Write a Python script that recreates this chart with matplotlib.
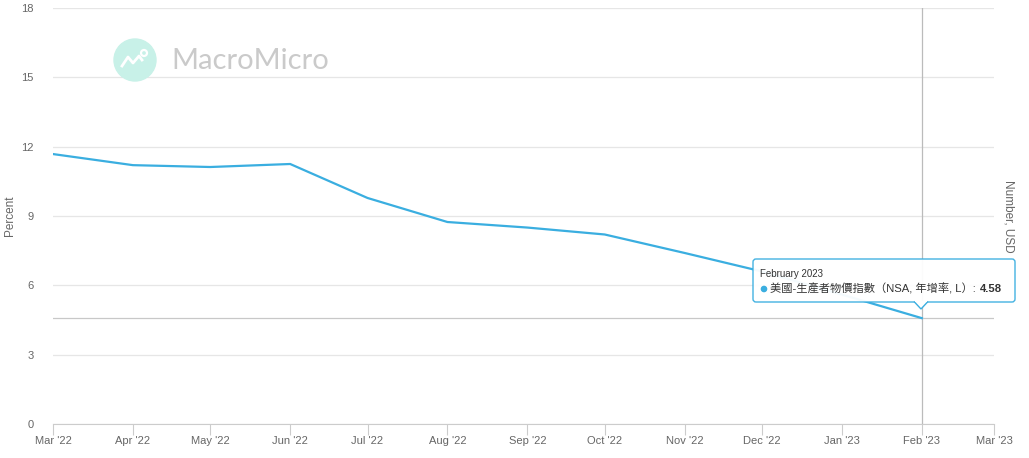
import matplotlib
matplotlib.use("Agg")
import matplotlib.pyplot as plt
import matplotlib.dates as mdates
from matplotlib.patches import FancyBboxPatch, Polygon
import numpy as np
import pandas as pd

plt.rcParams['font.family'] = ['Liberation Sans', 'Noto Sans CJK TC', 'DejaVu Sans']

# 美國-生產者物價指數 (NSA, 年增率)
months = pd.date_range("2022-03-01", "2023-02-01", freq="MS")
ppi_yoy = [11.68, 11.2, 11.12, 11.25, 9.78, 8.74, 8.5, 8.2, 7.4, 6.6, 5.6, 4.58]
y_ticks = [0, 3, 6, 9, 12, 15, 18]
x_ticks = pd.date_range("2022-03-01", "2023-03-01", freq="MS")

line_c = "#3aaee0"
grid_c = "#e6e6e6"
txt_c = "#666666"
H = 458

fig = plt.figure(figsize=(10.29, 4.58), dpi=100)
ax = fig.add_axes([53/1029, 34/H, 941/1029, 416/H])

ax.plot(months, ppi_yoy, color=line_c, lw=1.6, zorder=3)

ax.set_ylim(0, 18)
ax.set_yticks(y_ticks)
ax.set_xlim(x_ticks[0], x_ticks[-1])
ax.set_xticks(x_ticks)
ax.xaxis.set_major_formatter(mdates.DateFormatter("%b '%y"))
ax.grid(axis="y", color=grid_c, lw=0.9)
ax.set_axisbelow(True)
for s in ["top", "right", "left"]:
    ax.spines[s].set_visible(False)
ax.spines["bottom"].set_color("#cccccc")
ax.tick_params(axis="y", length=0, labelsize=8, labelcolor=txt_c, pad=14)
ax.tick_params(axis="x", length=8, color="#cccccc", labelsize=8, labelcolor=txt_c, pad=1)
ax.set_ylabel("Percent", fontsize=8.5, color=txt_c, labelpad=4)

# right axis title
fig.text(1008/1029, (H-216)/H, "Number, USD", rotation=270, fontsize=8.5, color=txt_c,
         ha="center", va="center")

# crosshair
last = months[-1]
ax.axvline(last, color="#bbbbbb", lw=0.9, zorder=2)
ax.axhline(ppi_yoy[-1], color="#c8c8c8", lw=0.9, zorder=2)

# watermark
fig.patches.append(plt.Circle((135, H-60), 21, transform=None, color="#c8f1e8", zorder=1))
fig.text(171/1029, (H-61)/H, "MacroMicro", fontsize=21, color="#cacaca",
         va="center", ha="left", family="Lato")
gx = np.array([-13, -7, -2, 4, 7]) + 135
gy = np.array([-6, 3, -3, 4, 0]) + (H-60)
fig.add_artist(plt.Line2D(gx, gy, transform=None, color="white", lw=2))
fig.patches.append(plt.Circle((144, H-53), 3, transform=None, fc="none", ec="white", lw=1.6))

# tooltip
bx0, by0, bx1, by1 = 753, H-302, 1015, H-259
box = FancyBboxPatch((bx0, by0), bx1-bx0, by1-by0, boxstyle="round,pad=0,rounding_size=3",
                     transform=None, fc="white", ec=line_c, lw=1, alpha=0.95, zorder=10)
fig.patches.append(box)
tip = Polygon([(914, by0+0.5), (921, by0-7), (928, by0+0.5)], closed=False, transform=None,
              fc="white", ec=line_c, lw=1, zorder=11)
fig.patches.append(tip)
fig.patches.append(plt.Rectangle((915, by0-0.2), 12, 1.6, transform=None, fc="white", ec="none", zorder=12))

fig.text(760/1029, (H-274)/H, "February 2023", fontsize=7, color="#333333", va="center", zorder=13)
fig.patches.append(plt.Circle((764, H-289), 2.6, transform=None, color=line_c, zorder=13))
t = fig.text(770/1029, (H-289)/H, "美國-生產者物價指數（NSA, 年增率, L）: ", fontsize=8.1,
             color="#333333", va="center", zorder=13)
fig.canvas.draw()
bb = t.get_window_extent(fig.canvas.get_renderer())
fig.text(bb.x1/1029 + 1/1029, (H-289)/H, f"{ppi_yoy[-1]:.2f}", fontsize=8.1, color="#333333",
         fontweight="bold", va="center", zorder=13)

fig.savefig("out.png", dpi=100)
